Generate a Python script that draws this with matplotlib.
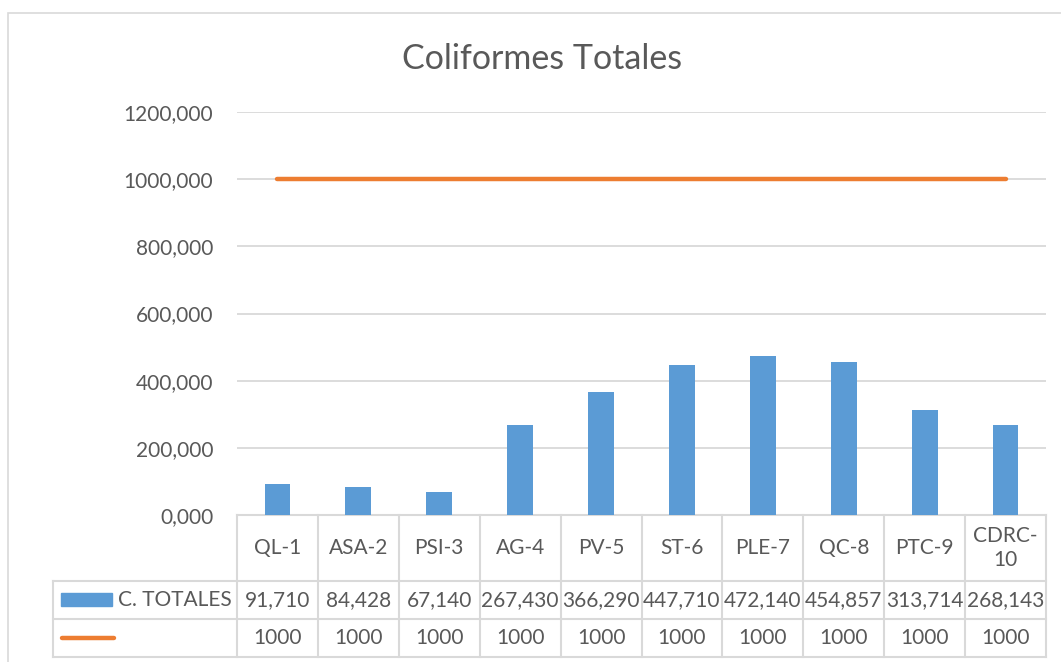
import matplotlib.pyplot as plt
from matplotlib.patches import Rectangle
from matplotlib.lines import Line2D
from matplotlib.transforms import blended_transform_factory

plt.rcParams['font.family'] = ['Lato', 'DejaVu Sans']

# datos
sitios = ["QL-1", "ASA-2", "PSI-3", "AG-4", "PV-5", "ST-6", "PLE-7", "QC-8", "PTC-9", "CDRC-\n10"]
totales = [91.710, 84.428, 67.140, 267.430, 366.290, 447.710, 472.140, 454.857, 313.714, 268.143]
limite = [1000, 1000, 1000, 1000, 1000, 1000, 1000, 1000, 1000, 1000]
etiq_totales = ["91,710", "84,428", "67,140", "267,430", "366,290", "447,710", "472,140", "454,857", "313,714", "268,143"]
yticks = [0, 200, 400, 600, 800, 1000, 1200]
ylabels = ["0,000", "200,000", "400,000", "600,000", "800,000", "1000,000", "1200,000"]

azul = '#5B9BD5'
naranja = '#ED7D31'
gris_txt = '#595959'
gris_lin = '#D9D9D9'

W, H = 1061, 662
def px(x):
    return x / W
def py(y):
    return 1 - y / H

fig = plt.figure(figsize=(W / 100, H / 100), dpi=100)

# borde del grafico
fig.patches.append(Rectangle((px(8), py(700)), px(1100), py(13) - py(700),
                             transform=fig.transFigure, fill=False,
                             edgecolor=gris_lin, linewidth=1.2))

ax = fig.add_axes([px(237), py(515), px(1046) - px(237), py(112) - py(515)])
x = list(range(len(sitios)))
ax.bar(x, totales, width=0.32, color=azul, zorder=3)
ax.plot(x, limite, color=naranja, linewidth=3.2, solid_capstyle='round', zorder=4)

ax.set_xlim(-0.5, len(sitios) - 0.5)
ax.set_ylim(0, 1200)
ax.set_yticks(yticks)
ax.set_yticklabels(ylabels)
ax.tick_params(axis='y', length=0, pad=17, labelsize=15, labelcolor=gris_txt)
ax.set_xticks([])
ax.grid(axis='y', color=gris_lin, linewidth=1.3, zorder=0)
for s in ax.spines.values():
    s.set_visible(False)

fig.text(px(542), py(59), "Coliformes Totales", ha='center', va='center',
         fontsize=24.5, color=gris_txt)

# tabla de datos
tr = blended_transform_factory(ax.transData, ax.transAxes)
h = py(112) - py(515)
def fy(y):
    return -(y - 515) / (H * h)

y0, y1, y2, y3 = 0, fy(581), fy(619), fy(657)
xl = -0.5 - (237 - 53) / 80.9
n = len(sitios)
lk = dict(color=gris_lin, linewidth=1.5, transform=tr, clip_on=False)
ax.add_line(Line2D([-0.5, n - 0.5], [y0, y0], **lk))
for yy in (y1, y2, y3):
    ax.add_line(Line2D([xl, n - 0.5], [yy, yy], **lk))
for i in range(n + 1):
    ax.add_line(Line2D([i - 0.5, i - 0.5], [y0, y3], **lk))
ax.add_line(Line2D([xl, xl], [y1, y3], **lk))

tk = dict(transform=tr, ha='center', va='center', fontsize=15, color=gris_txt, clip_on=False)
for i in range(n):
    ax.text(i, (y0 + y1) / 2, sitios[i], linespacing=1.3, **tk)
    ax.text(i, (y1 + y2) / 2, etiq_totales[i], **tk)
    ax.text(i, (y2 + y3) / 2, str(limite[i]), **tk)

# leyenda en la tabla
fig.patches.append(Rectangle((px(61), py(606)), px(112) - px(61), py(593) - py(606),
                             transform=fig.transFigure, color=azul))
fig.text(px(118), py(600), "C. TOTALES", ha='left', va='center', fontsize=15, color=gris_txt)
fig.lines.append(Line2D([px(62), px(114)], [py(638), py(638)], transform=fig.transFigure,
                        color=naranja, linewidth=3.2, solid_capstyle='round'))

fig.savefig("out.png", dpi=100)
